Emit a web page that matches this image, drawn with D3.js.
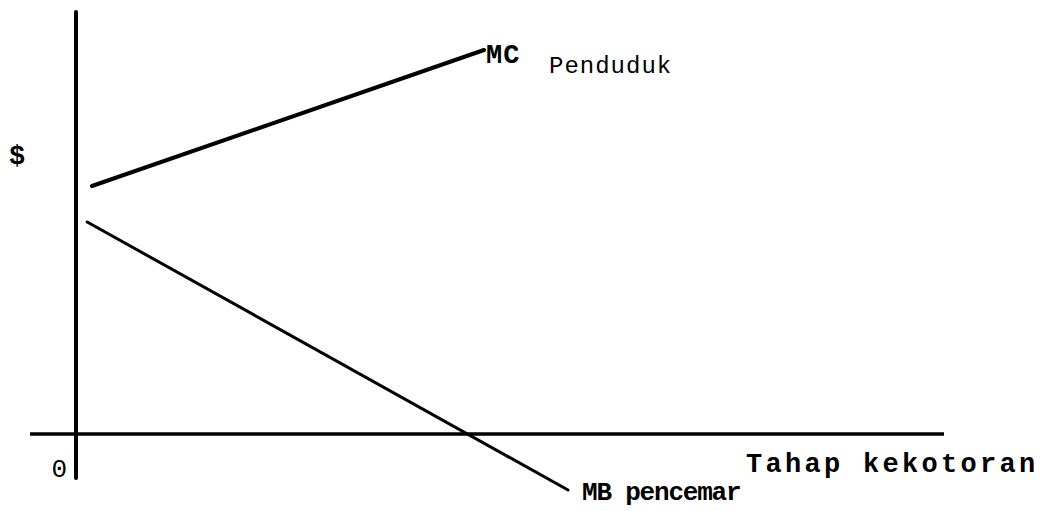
<!DOCTYPE html>
<html>
<head>
<meta charset="utf-8">
<script src="https://cdn.jsdelivr.net/npm/d3@7"></script>
<style>
  body { margin: 0; background: #fff; }
  text { font-family: "Liberation Mono", "DejaVu Sans Mono", monospace; fill: #000; }
</style>
</head>
<body>
<div id="chart"></div>
<script>
// axis extents (in chart units, origin = 0,0)
const xAxisExtent = [-11.5, 217];
const yAxisExtent = [-11, 105.5];

// curves
const mcPoints = [[4, 62], [102, 96]];      // MC Penduduk
const mbPoints = [[2.8, 53], [123, -14]];   // MB pencemar

const labels = {
  y: '$',
  origin: '0',
  x: 'Tahap kekotoran',
  mc: 'MC',
  mcSub: 'Penduduk',
  mb: 'MB pencemar'
};

const width = 1049, height = 511;

const x = d3.scaleLinear().domain([0, 100]).range([76, 476]);
const y = d3.scaleLinear().domain([0, 100]).range([434, 34]);

const svg = d3.select('#chart')
  .append('svg')
  .attr('width', width)
  .attr('height', height);

// axes drawn as plain strokes like the hand drawn original
svg.append('line')
  .attr('x1', x(xAxisExtent[0]))
  .attr('x2', x(xAxisExtent[1]))
  .attr('y1', y(0))
  .attr('y2', y(0))
  .attr('stroke', '#000')
  .attr('stroke-width', 3.5);

svg.append('line')
  .attr('x1', x(0))
  .attr('x2', x(0))
  .attr('y1', y(yAxisExtent[1]))
  .attr('y2', y(yAxisExtent[0]))
  .attr('stroke', '#000')
  .attr('stroke-width', 4)
  .attr('stroke-linecap', 'round');

const line = d3.line().x(d => x(d[0])).y(d => y(d[1]));

svg.append('path')
  .attr('d', line(mcPoints))
  .attr('fill', 'none')
  .attr('stroke', '#000')
  .attr('stroke-width', 4)
  .attr('stroke-linecap', 'round');

svg.append('path')
  .attr('d', line(mbPoints))
  .attr('fill', 'none')
  .attr('stroke', '#000')
  .attr('stroke-width', 3)
  .attr('stroke-linecap', 'round');

// labels
svg.append('text')
  .attr('x', 9)
  .attr('y', 164)
  .style('font-size', '27px')
  .style('font-weight', 'bold')
  .text(labels.y);

svg.append('text')
  .attr('x', x(0) - 9)
  .attr('y', y(0) + 43)
  .attr('text-anchor', 'end')
  .style('font-size', '26px')
  .text(labels.origin);

svg.append('text')
  .attr('x', 746)
  .attr('y', 472)
  .style('font-size', '27px')
  .style('font-weight', 'bold')
  .style('letter-spacing', '3.3px')
  .text(labels.x);

const mcEnd = mcPoints[mcPoints.length - 1];
svg.append('text')
  .attr('x', x(mcEnd[0]) + 2)
  .attr('y', y(mcEnd[1]) + 13)
  .style('font-size', '27px')
  .style('font-weight', 'bold')
  .style('letter-spacing', '1px')
  .text(labels.mc);

svg.append('text')
  .attr('x', 549)
  .attr('y', 73)
  .style('font-size', '24px')
  .style('letter-spacing', '1px')
  .text(labels.mcSub);

const mbEnd = mbPoints[mbPoints.length - 1];
svg.append('text')
  .attr('x', x(mbEnd[0]) + 14)
  .attr('y', y(mbEnd[1]) + 10)
  .style('font-size', '26px')
  .style('font-weight', 'bold')
  .style('letter-spacing', '-1.2px')
  .text(labels.mb);
</script>
</body>
</html>
